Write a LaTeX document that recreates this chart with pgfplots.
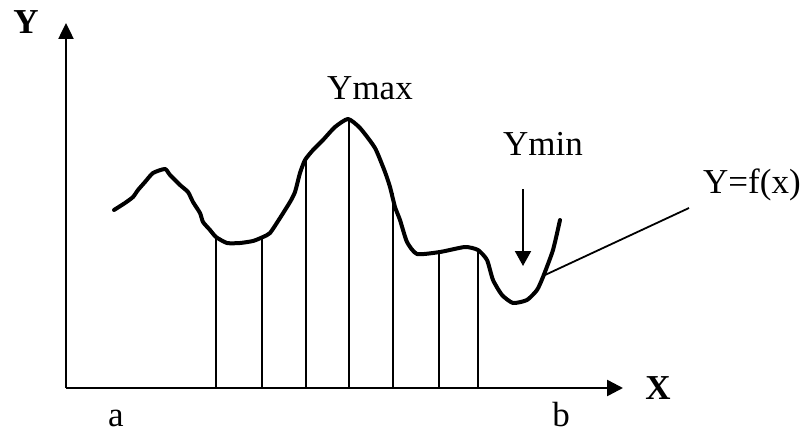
\documentclass[border=0pt]{standalone}
\usepackage{pgfplots}
\pgfplotsset{compat=1.18}
\usepackage{fontspec}
\setmainfont{Liberation Serif}
\usetikzlibrary{arrows.meta}
\tikzset{txt/.style={font=\fontsize{35}{40}\selectfont, inner sep=0pt}}

% pixel coordinates of the sketch (y counted downwards)
\pgfplotstableread{
x y
114 210
125 203
133 197
138 190
145 182
153 173
165 169
170 175
180 185
188 192
193 202
200 213
203 222
210 230
216 237
227 243
240 243
253 241
263 237
270 233
280 218
290 202
295 192
300 173
305 160
313 150
323 140
335 127
348 119
360 128
375 148
385 172
390 187
395 207
400 220
407 242
417 254
440 252
465 247
478 250
487 260
493 280
502 295
513 303
527 300
537 290
543 277
553 250
560 220
}\curve

\begin{document}
\begin{tikzpicture}
\begin{axis}[
  width=808pt, height=433pt, scale only axis,
  xmin=0, xmax=808, ymin=0, ymax=433, y dir=reverse,
  hide axis, clip=false,
  every axis plot/.append style={black, mark=none},
  ]
  % axes
  \addplot[line width=2.5pt, -{Triangle[width=15pt,length=16pt]}] coordinates {(66,388) (66,23)};
  \addplot[line width=2.5pt, -{Triangle[width=16pt,length=16pt]}] coordinates {(66,388) (623,388)};
  % ordinates
  \addplot[line width=1.8pt] coordinates {(216,388) (216,237)};
  \addplot[line width=1.8pt] coordinates {(262,388) (262,238)};
  \addplot[line width=1.8pt] coordinates {(306,388) (306,160)};
  \addplot[line width=1.8pt] coordinates {(349,388) (349,119)};
  \addplot[line width=1.8pt] coordinates {(393,388) (393,193)};
  \addplot[line width=1.8pt] coordinates {(439,388) (439,252)};
  \addplot[line width=1.8pt] coordinates {(478,388) (478,250)};
  % the curve
  \addplot[line width=4pt, smooth, tension=0.35, line join=round, line cap=round] table {\curve};
  % Ymin arrow and leader line
  \addplot[line width=2pt, -{Triangle[width=16pt,length=15pt]}] coordinates {(523,189) (523,266)};
  \addplot[line width=1.8pt] coordinates {(545,275) (689,208)};
  % texts
  \node[txt, font=\fontsize{35}{40}\selectfont\bfseries] at (axis cs:26,22) {Y};
  \node[txt, font=\fontsize{35}{40}\selectfont\bfseries] at (axis cs:658,388) {X};
  \node[txt, anchor=base] at (axis cs:116,426) {a};
  \node[txt, anchor=base] at (axis cs:561,426) {b};
  \node[txt, anchor=base] at (axis cs:370,100) {Ymax};
  \node[txt, anchor=base] at (axis cs:543,155) {Ymin};
  \node[txt, anchor=base west] at (axis cs:703,193) {Y=f(x)};
\end{axis}
\pgfresetboundingbox
\path (current axis.south west) rectangle (current axis.north east);
\end{tikzpicture}
\end{document}
